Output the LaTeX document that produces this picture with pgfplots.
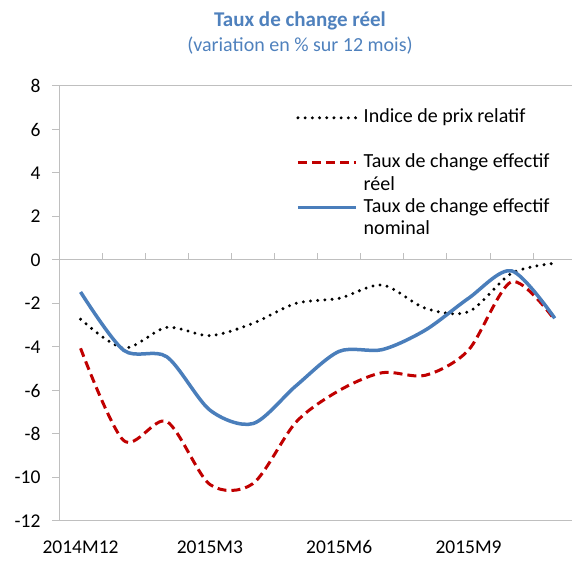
\documentclass[border=0pt]{standalone}
\usepackage{pgfplots}
\pgfplotsset{compat=1.18}
\usepackage{pgfplotstable}
\usepackage{fontspec}
\setmainfont{Carlito}
\definecolor{tblue}{RGB}{74,126,187}
\definecolor{ttitle}{RGB}{79,129,189}
\definecolor{tred}{RGB}{192,0,0}
\definecolor{axgray}{RGB}{191,191,191}
\pgfplotstableread{
i prix reel nominal
0 -2.72 -4.06 -1.47
1 -4.05 -8.30 -4.15
2 -3.10 -7.43 -4.45
3 -3.48 -10.32 -6.90
4 -2.91 -10.28 -7.52
5 -1.99 -7.45 -5.78
6 -1.76 -6.00 -4.20
7 -1.15 -5.18 -4.12
8 -2.22 -5.30 -3.22
9 -2.38 -4.14 -1.76
10 -0.61 -1.00 -0.50
11 -0.15 -2.76 -2.68
}\data
\begin{document}
\begin{tikzpicture}
\path[use as bounding box] (0,0) rectangle (572pt,561pt);
\node[font=\fontsize{21}{24}\selectfont\bfseries, text=ttitle] at (300pt,540pt) {Taux de change réel};
\node[font=\fontsize{20}{24}\selectfont, text=ttitle] at (300pt,515pt) {(variation en \% sur 12 mois)};
\begin{axis}[
  at={(59pt,40pt)}, anchor=south west,
  scale only axis, width=513pt, height=435pt,
  xmin=-0.5, xmax=11.4, ymin=-12, ymax=8,
  axis y line*=left, axis x line*=bottom,
  x axis line style={draw=none},
  y axis line style={axgray, line width=1pt},
  tick align=outside,
  major tick length=7pt,
  ytick={-12,-10,-8,-6,-4,-2,0,2,4,6,8},
  yticklabels={-12,-10,-8,-6,-4,-2,0,2,4,6,8},
  ytick style={axgray, line width=1pt},
  extra y ticks={-12,8},
  extra y tick labels={},
  extra y tick style={grid=major, major grid style={axgray, line width=1pt}},
  xtick={0,3,6,9},
  xticklabels={2014M12,2015M3,2015M6,2015M9},
  xtick style={draw=none},
  tick label style={font=\fontsize{19.5}{21}\selectfont},
  yticklabel style={xshift=-8pt},
  xticklabel style={yshift=-9pt},
  clip=false,
  legend style={at={(0.462,0.948)}, anchor=north west, draw=none, fill=none,
    inner sep=0pt, row sep=4.4pt, column sep=6pt,
    nodes={inner sep=0pt, text height=14pt, text depth=4pt, anchor=west},
    font=\fontsize{20}{22}\selectfont},
  legend cell align=left,
  legend image code/.code={\draw[#1] (0pt,0pt) -- (58pt,0pt);},
]
\addplot[axgray, line width=1pt, forget plot] coordinates {(-0.5,0) (11.4,0)};
\addplot[axgray, line width=1pt, ycomb, forget plot] coordinates {(-0.5,0.32) (0.5,0.32) (1.5,0.32) (2.5,0.32) (3.5,0.32) (4.5,0.32) (5.5,0.32) (6.5,0.32) (7.5,0.32) (8.5,0.32) (9.5,0.32) (10.5,0.32)};
\addplot[black, line width=3.3pt, line cap=round, dash pattern=on 0pt off 7.2pt, smooth, forget plot] table[x=i, y=prix] {\data};
\addplot[tred, line width=3pt, dash pattern=on 9pt off 5pt, smooth, forget plot] table[x=i, y=reel] {\data};
\addplot[tblue, line width=3.5pt, smooth, forget plot] table[x=i, y=nominal] {\data};
\addlegendimage{black, line width=3.3pt, line cap=round, dash pattern=on 0pt off 7.2pt}
\addlegendentry{Indice de prix relatif}
\addlegendimage{empty legend}
\addlegendentry{}
\addlegendimage{tred, line width=3pt, dash pattern=on 9pt off 5pt}
\addlegendentry{Taux de change effectif}
\addlegendimage{empty legend}
\addlegendentry{réel}
\addlegendimage{tblue, line width=3.5pt}
\addlegendentry{Taux de change effectif}
\addlegendimage{empty legend}
\addlegendentry{nominal}
\end{axis}
\end{tikzpicture}
\end{document}
